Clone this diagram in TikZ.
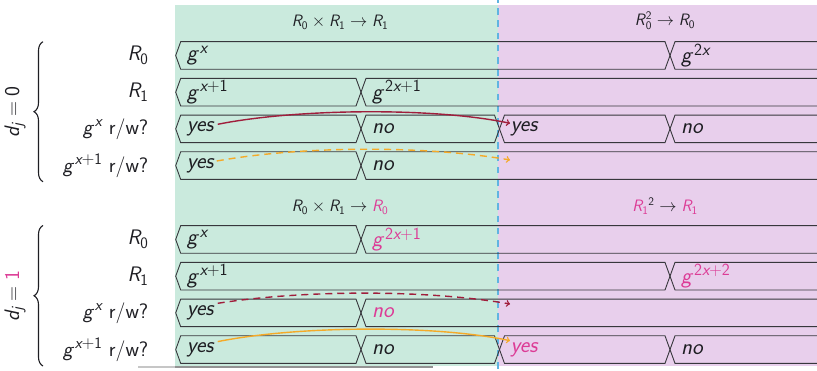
\documentclass[tikz,border=0pt]{standalone}
\usepackage{amsmath}
\usetikzlibrary{decorations.pathreplacing}
\DeclareMathAlphabet{\mathsfit}{TU}{lmss}{m}{sl}
\DeclareMathAlphabet{\mathsfup}{TU}{lmss}{m}{n}
\DeclareMathSizes{22.5}{22.5}{17}{13}
\DeclareMathSizes{21}{21}{16}{12}
\newcommand{\vi}[1]{\mathsfit{#1}}
\newcommand{\vu}[1]{\mathsfup{#1}}
\newcommand{\gvar}{{\vi{g}\mkern2mu}}
\definecolor{greenbg}{RGB}{202,234,221}
\definecolor{purplebg}{RGB}{232,207,236}
\definecolor{pinkt}{RGB}{220,60,150}
\definecolor{redarr}{RGB}{160,30,60}
\definecolor{orangearr}{RGB}{245,170,40}
\definecolor{bluedash}{RGB}{95,180,225}
\definecolor{linecol}{RGB}{55,55,60}
\definecolor{txt}{RGB}{30,30,35}
\newcommand{\busseg}[3]{\draw[busline] ({#2+5},#1) -- ({#3-5},#1) -- (#3,{#1+13.8}) -- ({#3-5},{#1+27.6}) -- ({#2+5},{#1+27.6}) -- (#2,{#1+13.8}) -- cycle;}
\begin{document}
\begin{tikzpicture}[x=1pt,y=-1pt,font=\sffamily,
  busline/.style={draw=linecol,line width=0.9pt},
  lbl/.style={anchor=east,inner sep=0pt,text=txt,font=\sffamily\fontsize{21}{24}\selectfont},
  tt/.style={anchor=west,inner sep=2pt,text=txt,font=\sffamily\itshape\fontsize{22.5}{26}\selectfont},
  hdr/.style={anchor=base,inner sep=0pt,text=txt,font=\sffamily\fontsize{16.5}{19}\selectfont},
  arrowline/.style={line width=1.4pt,->},
  bracestyle/.style={decorate,decoration={brace,amplitude=9pt},line width=1.1pt,draw=txt}]
\clip (0,0) rectangle (817,371);
\useasboundingbox (0,0) rectangle (817,371);
% backgrounds
\fill[greenbg] (175,5) rectangle (497.7,366);
\fill[purplebg] (497.7,5) rectangle (817,366);
\draw[line width=1.5pt,gray!45] (138,367) -- (175,367);
\draw[line width=1.5pt,gray!85] (175,367) -- (433,367);
\draw[bluedash,line width=1.8pt,dash pattern=on 6.5pt off 5.7pt,dash phase=3.9pt] (497.7,0) -- (497.7,371);
% headers
\node[hdr] (h1) at (340,26.7) {$\vi{R}_{\vu{0}}\times \vi{R}_{\vu{1}}\to \vi{R}_{\vu{1}}$};
\node[hdr] (h2) at (665,25.5) {$\vi{R}\mkern1mu_{\vu{0}}^{\vu{2}}\to \vi{R}_{\vu{0}}$};
\node[hdr] (h3) at (340,211.7) {$\vi{R}_{\vu{0}}\times \vi{R}_{\vu{1}}\to {\color{pinkt}\vi{R}_{\vu{0}}}$};
\node[hdr] (h4) at (665,211.7) {${\color{pinkt}\vi{R}_{\vu{1}}}^{\vu{2}}\to {\color{pinkt}\vi{R}_{\vu{1}}}$};
% braces
\draw[bracestyle] (43,181.7) -- (43,41.7);
\draw[bracestyle] (43,366) -- (43,225.5);
\node[rotate=90,text=txt,font=\sffamily\fontsize{21}{24}\selectfont] (d0) at (15,111.7) {$\vi{d}_{\vi{j}} = \vu{0}$};
\node[rotate=90,text=txt,font=\sffamily\fontsize{21}{24}\selectfont] (d1) at (15,296) {$\vi{d}_{\vi{j}} = {\color{pinkt}\vu{1}}$};
% labels group 1
\node[lbl] (l1) at (148.5,55.5) {$\vi{R}_{\vu{0}}$};
\node[lbl] (l2) at (148.5,92.2) {$\vi{R}_{\vu{1}}$};
\node[lbl] (l3) at (148.5,128.9) {$\gvar^{\vi{x}}$ r/w?};
\node[lbl] (l4) at (148.5,165.6) {$\gvar^{\vi{x}+\vu{1}}$ r/w?};
% labels group 2
\node[lbl] (m1) at (148.5,239.5) {$\vi{R}_{\vu{0}}$};
\node[lbl] (m2) at (148.5,276.2) {$\vi{R}_{\vu{1}}$};
\node[lbl] (m3) at (148.5,312.9) {$\gvar^{\vi{x}}$ r/w?};
\node[lbl] (m4) at (148.5,349.6) {$\gvar^{\vi{x}+\vu{1}}$ r/w?};
% rows group 1
\busseg{41.7}{175.7}{670}\busseg{41.7}{670}{830}
\busseg{78.4}{175.7}{361}\busseg{78.4}{361}{830}
\busseg{115.1}{175.7}{361}\busseg{115.1}{361}{499.5}\busseg{115.1}{499.5}{670}\busseg{115.1}{670}{830}
\busseg{151.8}{175.7}{361}\busseg{151.8}{361}{830}
% rows group 2
\busseg{225.7}{175.7}{361}\busseg{225.7}{361}{830}
\busseg{262.4}{175.7}{670}\busseg{262.4}{670}{830}
\busseg{299.1}{175.7}{361}\busseg{299.1}{361}{830}
\busseg{335.8}{175.7}{361}\busseg{335.8}{361}{499.5}\busseg{335.8}{499.5}{670}\busseg{335.8}{670}{830}
% texts group 1
\node[tt] (a1) at (184.7,55.5) {$\gvar^{\vi{x}}$};
\node[tt] (a2) at (679,55.5) {$\gvar^{\vu{2}\vi{x}}$};
\node[tt] (b1) at (184.7,92.2) {$\gvar^{\vi{x}+\vu{1}}$};
\node[tt] (b2) at (370,92.2) {$\gvar^{\vu{2}\vi{x}+\vu{1}}$};
\node[tt] (c1) at (184.7,128.9) {yes};
\node[tt] (c2) at (370,128.9) {no};
\node[tt] (c3) at (508.5,128.9) {yes};
\node[tt] (c4) at (679,128.9) {no};
\node[tt] (e1) at (184.7,165.6) {yes};
\node[tt] (e2) at (370,165.6) {no};
% texts group 2
\node[tt] (f1) at (184.7,239.5) {$\gvar^{\vi{x}}$};
\node[tt,text=pinkt] (f2) at (370,239.5) {$\gvar^{\vu{2}\vi{x}+\vu{1}}$};
\node[tt] (g1) at (184.7,276.2) {$\gvar^{\vi{x}+\vu{1}}$};
\node[tt,text=pinkt] (g2) at (679,276.2) {$\gvar^{\vu{2}\vi{x}+\vu{2}}$};
\node[tt] (k1) at (184.7,312.9) {yes};
\node[tt,text=pinkt] (k2) at (370,312.9) {no};
\node[tt] (p1) at (184.7,349.6) {yes};
\node[tt] (p2) at (370,349.6) {no};
\node[tt,text=pinkt] (p3) at (508.5,349.6) {yes};
\node[tt] (p4) at (679,349.6) {no};
% free ends
\coordinate (t2) at (510,160);
\coordinate (t3) at (510,304);
% arrows
\draw[arrowline,redarr] ([shift={(2,-4.6)}]c1.east) .. controls +(80,-16) and +(-75,-16) .. ([shift={(1.5,-5.6)}]c3.west);
\draw[arrowline,orangearr,dashed,dash pattern=on 7pt off 5pt] ([shift={(1,-4.6)}]e1.east) .. controls +(90,-16) and +(-80,-14) .. (t2);
\draw[arrowline,redarr,dashed,dash pattern=on 7pt off 5pt] ([shift={(2,-9.6)}]k1.east) .. controls +(90,-14) and +(-80,-14) .. (t3);
\draw[arrowline,orangearr] ([shift={(2,-8)}]p1.east) .. controls +(80,-16) and +(-75,-16) .. ([shift={(1.5,-8.9)}]p3.west);
\end{tikzpicture}
\end{document}
